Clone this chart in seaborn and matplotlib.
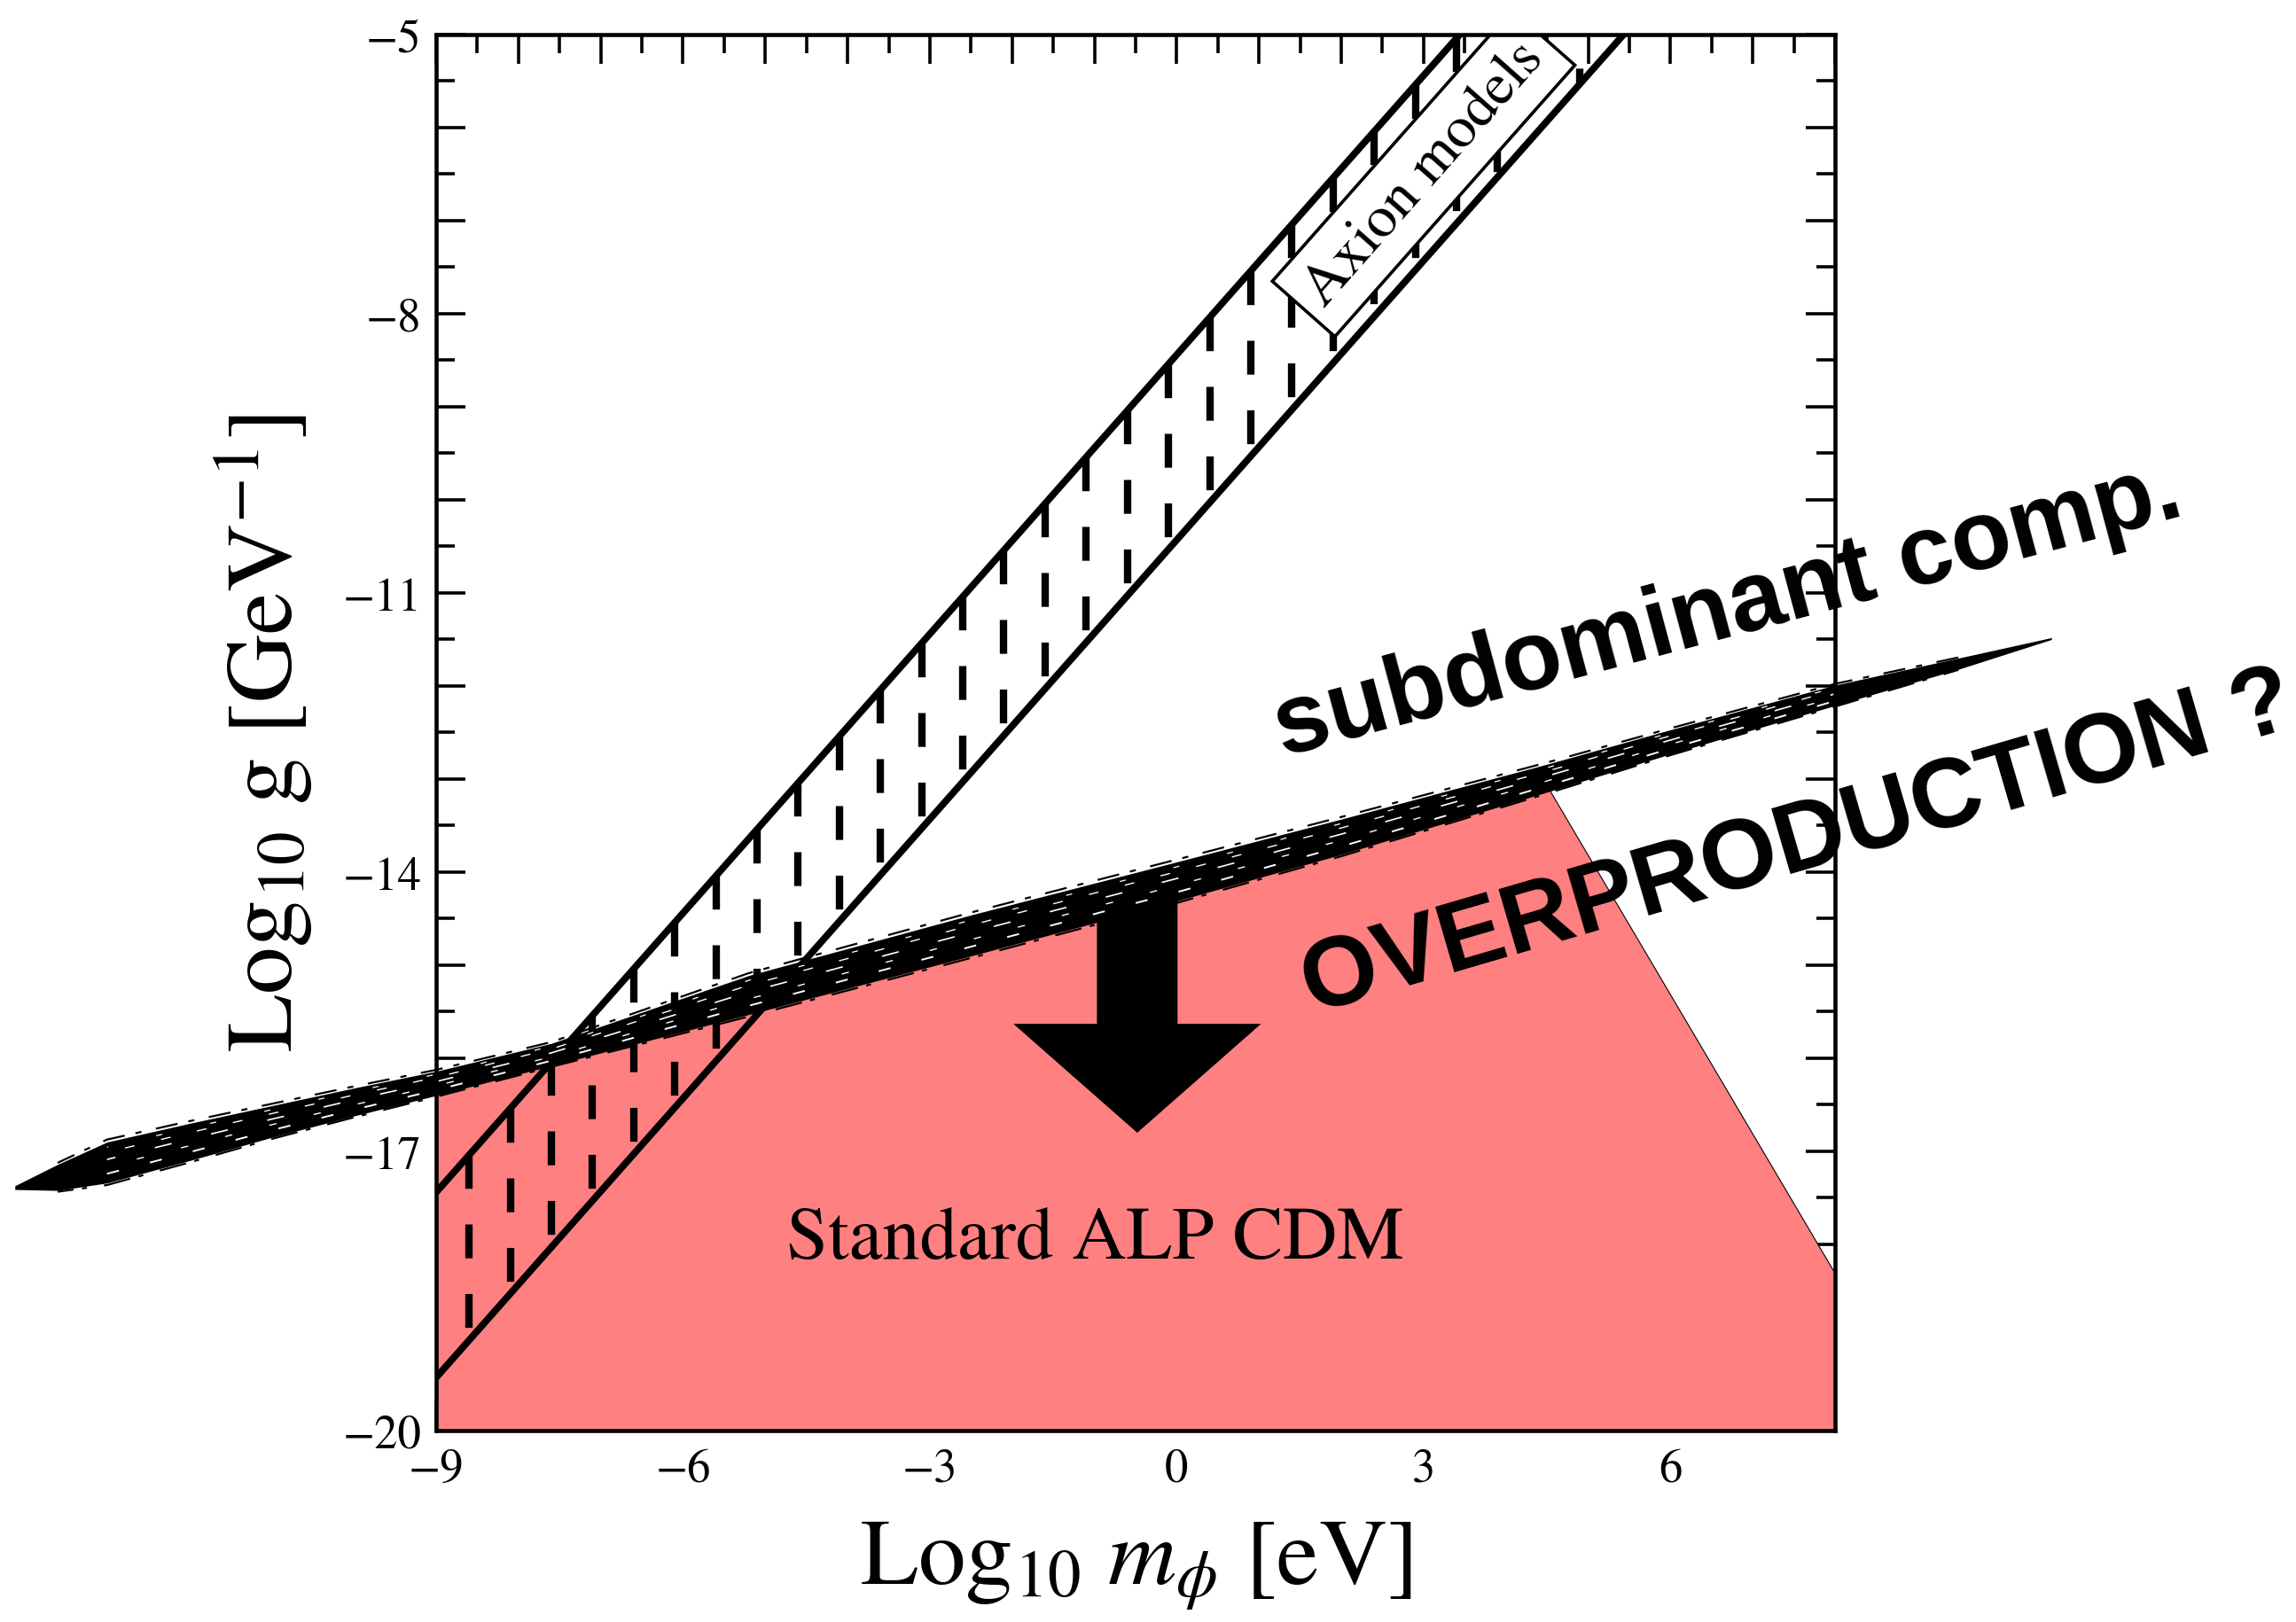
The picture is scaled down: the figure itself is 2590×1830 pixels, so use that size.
import numpy as np
import pandas as pd
import matplotlib
matplotlib.use("Agg")
import matplotlib.pyplot as plt
import seaborn as sns

# ---------------- data ----------------
# Axion band edges (slope-1 lines): endpoints (x, log10 g)
axion_upper_x = [-9.0, 3.44]
axion_upper_y = [-17.44, -5.0]
axion_lower_x = [-9.0, 5.43]
axion_lower_y = [-19.43, -5.0]
# vertical dashed hatching columns inside the band
hatch_x = [-8.6, -8.1, -7.6, -7.1, -6.6, -6.1, -5.6, -5.1, -4.6, -4.1, -3.6, -3.1,
           -2.6, -2.1, -1.6, -1.1, -0.6, -0.1, 0.4, 0.9, 1.4, 1.9, 2.4, 2.9, 3.4,
           3.9, 4.4, 4.9, 5.4]

# red "Standard ALP CDM" region
red_x = [-9.0, 4.5, 8.0, 8.0, -9.0]
red_y = [-16.40, -13.07, -18.31, -20.0, -20.0]

# hand-drawn overproduction boundary (centre line and half thickness)
band_x = [-14.12, -13.6, -13.0, -12.0, -11.0, -10.0, -9.0, -7.6, -5.2, -2.5,
          0.0, 2.0, 4.5, 6.0, 8.0, 9.5, 10.63]
band_center = [-17.39, -17.28, -17.12, -16.90, -16.68, -16.47, -16.27, -15.96,
               -15.32, -14.68, -14.10, -13.62, -12.99, -12.60, -12.10, -11.76, -11.49]
band_half = [0.02, 0.14, 0.22, 0.20, 0.17, 0.15, 0.13, 0.12, 0.21, 0.22,
             0.21, 0.19, 0.15, 0.13, 0.11, 0.06, 0.01]

# arrow
arrow_x = -0.48
arrow_top = -14.30
arrow_tip = -16.80
arrow_shaft_w = 0.98
arrow_head_w = 3.01
arrow_head_len = 1.17

x_labels = [-9, -6, -3, 0, 3, 6]
y_labels = [-20, -17, -14, -11, -8, -5]
xlim = (-9, 8)
ylim = (-20, -5)

# ---------------- style ----------------
sns.set_style("ticks")
plt.rcParams["font.family"] = ["STIXGeneral", "DejaVu Serif"]
plt.rcParams["mathtext.fontset"] = "stix"
plt.rcParams["lines.scale_dashes"] = False
plt.rcParams["axes.linewidth"] = 3.3
for key in ["text.color", "axes.labelcolor", "xtick.color", "ytick.color",
            "xtick.labelcolor", "ytick.labelcolor", "axes.edgecolor"]:
    plt.rcParams[key] = "black"

fig = plt.figure(figsize=(25.9, 18.31), dpi=100)
ax = fig.add_axes([0.18996, 0.11797, 0.60927, 0.8602])
ax.set_xlim(*xlim)
ax.set_ylim(*ylim)

# red region
ax.fill(red_x, red_y, color="#FF8080", lw=0, zorder=1)
ax.plot(red_x[1:3], red_y[1:3], color="black", lw=0.8, zorder=1.5)

# hatching columns: dashes start at the upper edge of the band
up_c = axion_upper_y[0] - axion_upper_x[0]
lo_c = axion_lower_y[0] - axion_lower_x[0]
hx = np.array(hatch_x)
ax.vlines(hx, hx + up_c, hx + lo_c, colors="black", linewidth=6.0,
          linestyles=[(0, (27.5, 29.0))], zorder=3)

# band edges
edges = pd.DataFrame({
    "x": axion_upper_x + axion_lower_x,
    "y": axion_upper_y + axion_lower_y,
    "edge": ["upper", "upper", "lower", "lower"],
})
sns.lineplot(data=edges, x="x", y="y", units="edge", estimator=None,
             color="black", linewidth=5.6, ax=ax, zorder=5, legend=False)

# Axion models label box
ax.text(3.0, -6.49, "Axion models", fontsize=48, rotation=45,
        transform_rotates_text=True, rotation_mode="anchor",
        ha="center", va="center", zorder=4, clip_on=True, color="black",
        bbox=dict(boxstyle="square,pad=0.25", fc="white", ec="black", lw=2.6))

# arrow
ax.arrow(arrow_x, arrow_top, 0, arrow_tip - arrow_top, width=arrow_shaft_w,
         head_width=arrow_head_w, head_length=arrow_head_len,
         length_includes_head=True, fc="black", ec="none", zorder=6)

# hand-drawn boundary band
bc = np.array(band_center)
bh = np.array(band_half)
poly = ax.fill_between(band_x, bc - bh, bc + bh, color="black", lw=0, zorder=7)
poly.set_clip_on(False)
# ragged outer strokes
for off, lw, ds in [(1.12, 1.6, (3, (18, 9, 5, 12))), (-1.1, 1.6, (9, (22, 7, 4, 14)))]:
    ln, = ax.plot(band_x[1:-1], (bc + off * bh)[1:-1], color="black",
                  lw=lw, linestyle=ds, zorder=7)
    ln.set_clip_on(False)
# white streaks inside the scribble
for off, lw, ds in [(-0.55, 1.4, (0, (10, 26))), (-0.2, 1.0, (12, (6, 31))),
                    (0.15, 1.2, (7, (14, 33))), (0.5, 1.0, (15, (8, 22))),
                    (0.75, 0.9, (4, (5, 40)))]:
    ln, = ax.plot(band_x[2:-2], (bc + off * bh)[2:-2], color="white",
                  lw=lw, linestyle=ds, zorder=7.5)
    ln.set_clip_on(False)

# texts
ax.text(-0.99, -17.95, "Standard ALP CDM", fontsize=61, ha="center",
        va="center", zorder=8, color="black")
ax.text(6.70, -11.18, "subdominant comp.", fontsize=80, fontweight="bold",
        family=["Liberation Sans", "DejaVu Sans"], rotation=15.0, color="black",
        rotation_mode="anchor", ha="center", va="center", clip_on=False, zorder=9)
ax.text(7.55, -13.70, "OVERPRODUCTION ?", fontsize=80, fontweight="bold",
        family=["Liberation Sans", "DejaVu Sans"], rotation=16.3, color="black",
        rotation_mode="anchor", ha="center", va="center", clip_on=False, zorder=9)

# ticks
xt = np.arange(xlim[0], xlim[1] + 1)
yt = np.arange(ylim[0], ylim[1] + 1)
ax.set_xticks(xt)
ax.set_yticks(yt)
ax.set_xticklabels([("\u2212" + str(abs(v)) if v < 0 else str(v)) if v in x_labels else ""
                    for v in xt])
ax.set_yticklabels([("\u2212" + str(abs(v)) if v < 0 else str(v)) if v in y_labels else ""
                    for v in yt])
ax.set_xticks(np.arange(xlim[0] + 0.5, xlim[1], 1.0), minor=True)
ax.set_yticks(np.arange(ylim[0] + 0.5, ylim[1], 1.0), minor=True)
ax.tick_params(which="both", direction="in", top=True, right=True,
               bottom=True, left=True, width=2.6, colors="black")
ax.tick_params(which="major", length=23.5, labelsize=38, pad=12)
ax.tick_params(which="minor", length=15)
ax.tick_params(axis="x", which="major", pad=14)

ax.set_xlabel(r"$\mathrm{Log}_{10}\ m_{\phi}\ [\mathrm{eV}]$", fontsize=77,
              labelpad=22, color="black")
ax.set_ylabel(r"$\mathrm{Log}_{10}\ \mathrm{g}\ [\mathrm{GeV}^{-1}]$", fontsize=77,
              labelpad=22, color="black")

for s in ax.spines.values():
    s.set_zorder(10)
    s.set_linewidth(3.3)
    s.set_color("black")

fig.savefig("out.png", dpi=100)
